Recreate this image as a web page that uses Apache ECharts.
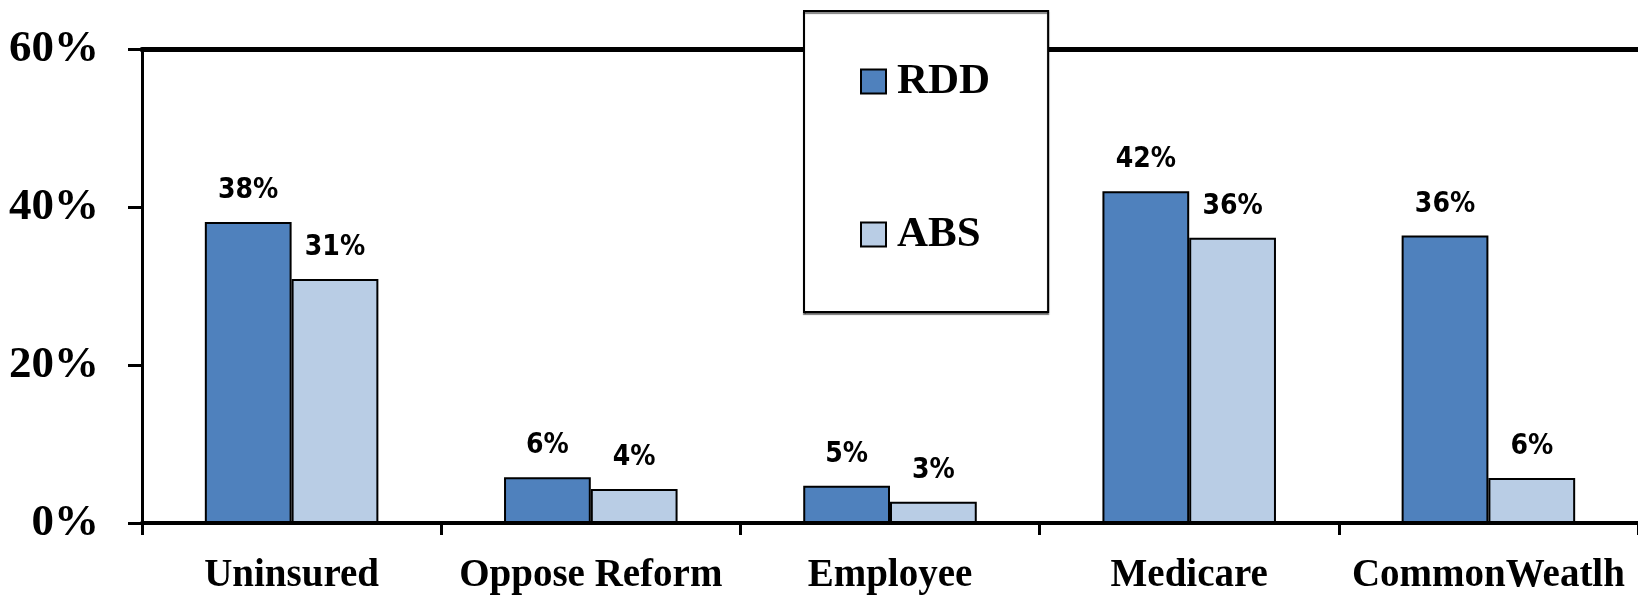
<!DOCTYPE html>
<html>
<head>
<meta charset="utf-8">
<script src="https://cdn.jsdelivr.net/npm/echarts@6/dist/echarts.min.js"></script>
<style>
html,body{margin:0;padding:0;background:#fff;}
#chart{width:1638px;height:598px;}
</style>
</head>
<body>
<div id="chart"></div>
<script>
const categories = ['Uninsured', 'Oppose Reform', 'Employee', 'Medicare', 'CommonWeatlh'];
const rddValues = [38.1, 5.8, 4.7, 42.0, 36.4];
const absValues = [30.9, 4.3, 2.7, 36.1, 5.7];
const yTicks = [0, 20, 40, 60];

const chart = echarts.init(document.getElementById('chart'));
const labelFont = {
  show: true,
  position: 'top',
  distance: 17,
  fontFamily: "'DejaVu Sans Condensed', 'Liberation Sans Narrow', 'DejaVu Sans', sans-serif",
  fontWeight: 'bold',
  fontSize: 28,
  color: '#000',
  formatter: p => Math.round(p.value) + '%'
};
chart.setOption({
  animation: false,
  backgroundColor: '#fff',
  grid: { left: 142, right: -5, top: 49, bottom: 75, containLabel: false },
  legend: {
    orient: 'vertical',
    left: 804,
    top: 11,
    padding: [49, 58, 56, 56],
    itemGap: 110,
    itemWidth: 25,
    itemHeight: 24,
    icon: 'rect',
    backgroundColor: '#fff',
    borderColor: '#000',
    borderWidth: 2,
    shadowColor: 'rgba(0,0,0,0.5)',
    shadowOffsetY: 2,
    shadowBlur: 1,
    textStyle: {
      fontFamily: "'Liberation Serif', 'DejaVu Serif', serif",
      fontWeight: 'bold',
      fontSize: 43,
      color: '#000',
      padding: [0, 0, 0, 6]
    },
    itemStyle: { borderColor: '#000', borderWidth: 2 },
    data: ['RDD', 'ABS']
  },
  xAxis: [{
    type: 'category',
    data: categories,
    axisLine: { lineStyle: { color: '#000', width: 4 } },
    axisTick: { show: true, interval: 0, length: 12, lineStyle: { color: '#000', width: 3 } },
    axisLabel: {
      interval: 0,
      margin: 33,
      fontFamily: "'Liberation Serif', 'DejaVu Serif', serif",
      fontWeight: 'bold',
      fontSize: 39,
      color: '#000'
    }
  }, {
    type: 'category',
    position: 'top',
    data: categories,
    axisLine: { show: true, lineStyle: { color: '#000', width: 5 } },
    axisTick: { show: false },
    axisLabel: { show: false }
  }],
  yAxis: {
    type: 'value',
    min: yTicks[0],
    max: yTicks[yTicks.length - 1],
    interval: yTicks[1] - yTicks[0],
    axisLine: { show: true, lineStyle: { color: '#000', width: 3 } },
    axisTick: { show: true, length: 14, lineStyle: { color: '#000', width: 3 } },
    splitLine: { show: false },
    axisLabel: {
      margin: 43,
      formatter: v => v + '%',
      fontFamily: "'Liberation Serif', 'DejaVu Serif', serif",
      fontWeight: 'bold',
      fontSize: 45,
      color: '#000'
    }
  },
  series: [{
    name: 'RDD',
    type: 'bar',
    data: rddValues,
    barGap: '0%',
    barCategoryGap: '42%',
    itemStyle: { color: '#4F81BD', borderColor: '#000', borderWidth: 2 },
    label: labelFont
  }, {
    name: 'ABS',
    type: 'bar',
    data: absValues,
    barGap: '0%',
    barCategoryGap: '42%',
    itemStyle: { color: '#B9CDE5', borderColor: '#000', borderWidth: 2 },
    label: labelFont
  }]
});
</script>
</body>
</html>
